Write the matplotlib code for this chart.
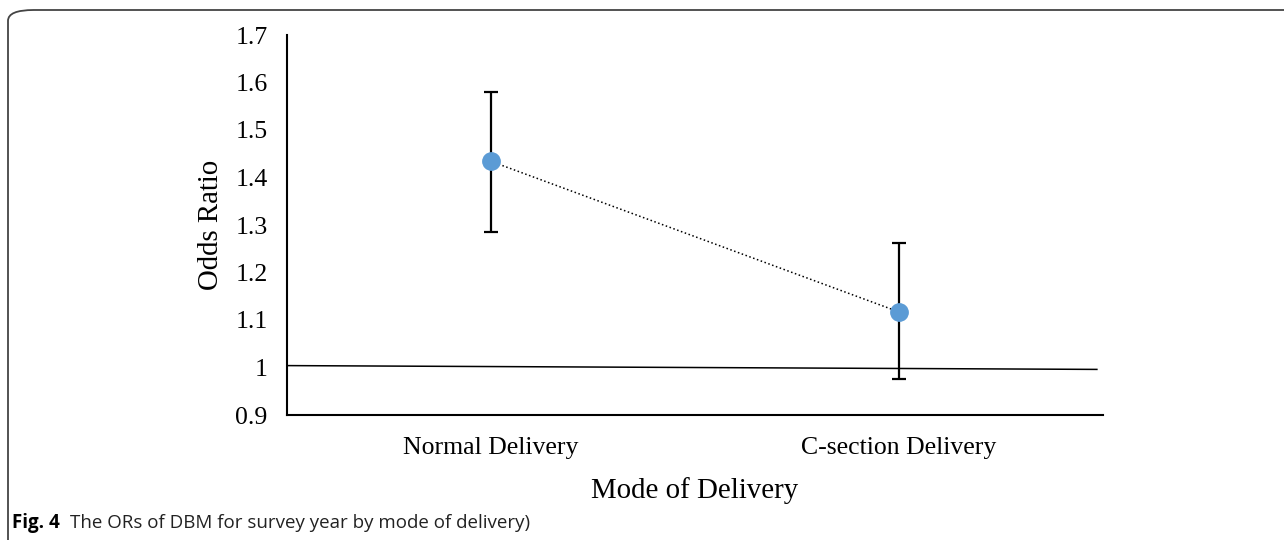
import matplotlib.pyplot as plt
from matplotlib.patches import FancyBboxPatch
import numpy as np

categories = ['Normal Delivery', 'C-section Delivery']
odds = [1.434, 1.117]
ci_low = [1.285, 0.975]
ci_high = [1.580, 1.263]
ref_x = [-0.5, 1.485]
ref_y = [1.004, 0.996]
yticks = [0.9, 1.0, 1.1, 1.2, 1.3, 1.4, 1.5, 1.6, 1.7]
ytick_labels = ['0.9', '1', '1.1', '1.2', '1.3', '1.4', '1.5', '1.6', '1.7']

serif = ['Liberation Serif', 'DejaVu Serif']

fig = plt.figure(figsize=(12.84, 5.4), dpi=100)
ax = fig.add_axes([287/1284, 1-415/540, (1103-287)/1284, (415-35)/540])

x = np.arange(len(categories))
odds = np.array(odds)
yerr = [odds-np.array(ci_low), np.array(ci_high)-odds]

ax.plot(ref_x, ref_y, color='k', lw=1.1, zorder=1)
ax.plot(x, odds, color='k', ls=':', lw=1.1, zorder=2)
ax.errorbar(x, odds, yerr=yerr, fmt='none', ecolor='k', elinewidth=1.6,
            capsize=5, capthick=1.6, zorder=3)
ax.plot(x, odds, 'o', color='#5B9BD5', ms=12.5, zorder=4)

ax.set_xlim(-0.5, 1.5)
ax.set_ylim(0.9, 1.7)
ax.set_yticks(yticks)
ax.set_yticklabels(ytick_labels, family=serif, fontsize=18.5)
ax.set_xticks(x)
ax.set_xticklabels(categories, family=serif, fontsize=18.5)
ax.tick_params(axis='y', length=0, pad=14)
ax.tick_params(axis='x', length=0, pad=16)
for s in ['top', 'right']:
    ax.spines[s].set_visible(False)
for s in ['left', 'bottom']:
    ax.spines[s].set_linewidth(1.5)
ax.set_ylabel('Odds Ratio', family=serif, fontsize=20.8, labelpad=8)
ax.set_xlabel('Mode of Delivery', family=serif, fontsize=20.8, labelpad=12.5)

# frame around the figure panel
box = FancyBboxPatch((8/1284, -0.1), 1.2, 1-10/540+0.1,
                     boxstyle='round,pad=0,rounding_size=0.02',
                     transform=fig.transFigure, fill=False,
                     edgecolor='#444444', lw=1.3, clip_on=False)
fig.patches.append(box)

fig.text(12/1284, 1-523/540, 'Fig. 4', family=['Open Sans', 'DejaVu Sans'],
         fontsize=13.5, fontweight='bold', va='center', ha='left')
fig.text(70/1284, 1-523/540, 'The ORs of DBM for survey year by mode of delivery)',
         family=['Open Sans', 'DejaVu Sans'], fontsize=13.5, va='center', ha='left',
         color='#222222')

fig.savefig('out.png', dpi=100)
